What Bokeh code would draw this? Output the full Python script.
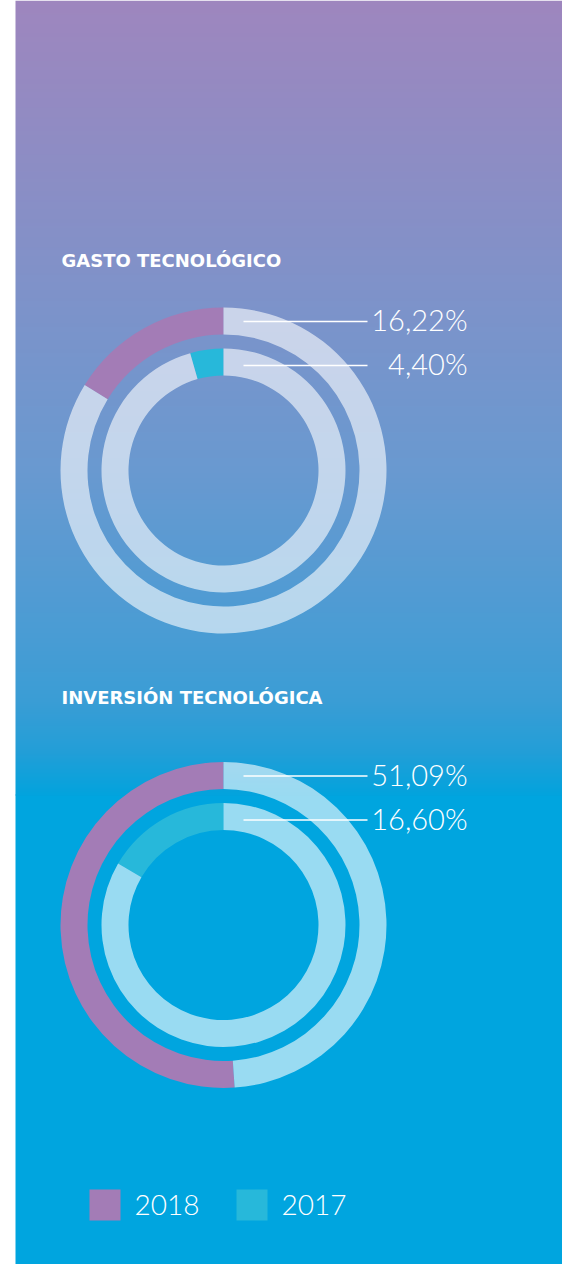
import numpy as np
from bokeh.plotting import figure
from bokeh.models import Range1d
from bokeh.core.properties import value
from bokeh.embed import file_html
from bokeh.resources import INLINE

# ---- data ----
categories = ["GASTO TECNOLÓGICO", "INVERSIÓN TECNOLÓGICA"]
values_2018 = [16.22, 51.09]
values_2017 = [4.40, 16.60]
years = ["2018", "2017"]

# ---- style ----
C2018 = "#A37CB6"
C2017 = "#27B8DA"
REST = "white"
REST_ALPHA = 0.6
W, H = 562, 1264
NUM_FONT = "Lato Light"
TITLE_FONT = "DejaVu Sans"

def X(px):
    return px

def Y(py):
    return H - py

p = figure(width=W, height=H, x_range=Range1d(0, W), y_range=Range1d(0, H),
           output_backend="svg", toolbar_location=None, min_border=0,
           outline_line_color=None, background_fill_color="white",
           border_fill_color="white")
p.axis.visible = False
p.grid.visible = False

# ---- background gradient (styling) ----
GRAD_END = 795
stops = [(0, (158, 134, 190)), (260, (130, 145, 200)), (470, (105, 153, 208)),
         (640, (72, 156, 212)), (700, (58, 157, 213)), (750, (35, 158, 215)),
         (GRAD_END, (2, 163, 221))]
rows = []
for yy in range(GRAD_END - 1, -1, -1):  # image row 0 is at the bottom
    for (a, ca), (b, cb) in zip(stops[:-1], stops[1:]):
        if a <= yy <= b:
            t = (yy - a) / (b - a)
            c = [int(round(ca[k] + t * (cb[k] - ca[k]))) for k in range(3)]
            break
    rows.append(c)
img = np.zeros((GRAD_END, 1), dtype=np.uint32)
view = img.view(dtype=np.uint8).reshape((GRAD_END, 1, 4))
for r, c in enumerate(rows):
    view[r, 0, 0] = c[0]
    view[r, 0, 1] = c[1]
    view[r, 0, 2] = c[2]
    view[r, 0, 3] = 255
p.quad(left=X(15), right=W, top=Y(GRAD_END) + 1, bottom=0, fill_color="#00A5DF", line_color=None)
p.image_rgba(image=[img], x=X(15), y=Y(GRAD_END), dw=W - 15, dh=GRAD_END)

# ---- donuts ----
cx = 223
centers_y = [470, 924.5]
title_y = [260, 697]
R_OUT = (136, 163)
R_IN = (95, 122)
start = np.pi / 2

for i, cat in enumerate(categories):
    cy = centers_y[i]
    for val, col, (r0, r1) in ((values_2018[i], C2018, R_OUT), (values_2017[i], C2017, R_IN)):
        end = start + val / 100 * 2 * np.pi
        p.annular_wedge(x=X(cx), y=Y(cy), inner_radius=r0, outer_radius=r1,
                        start_angle=start, end_angle=end, direction="anticlock",
                        fill_color=col, line_color=None)
        p.annular_wedge(x=X(cx), y=Y(cy), inner_radius=r0, outer_radius=r1,
                        start_angle=end, end_angle=start + 2 * np.pi, direction="anticlock",
                        fill_color=REST, fill_alpha=REST_ALPHA, line_color=None)
    # title
    p.text(x=[X(61)], y=[Y(title_y[i])], text=[cat], text_color="white",
           text_font=value(TITLE_FONT), text_font_style="bold", text_font_size="18px",
           text_baseline="middle", text_align="left")
    # labels
    for val, off in ((values_2018[i], 149), (values_2017[i], 105)):
        ly = cy - off
        p.segment(x0=X(243), y0=Y(ly), x1=X(367), y1=Y(ly), line_color="white", line_width=1.5)
        lab = ("%.2f%%" % val).replace(".", ",")
        p.text(x=[X(467)], y=[Y(ly - 2)], text=[lab], text_color="white",
               text_font=value(NUM_FONT), text_font_size="29px",
               text_baseline="middle", text_align="right")

# ---- legend ----
leg_x = [89, 236]
leg_cols = [C2018, C2017]
for yr, lx, col in zip(years, leg_x, leg_cols):
    p.rect(x=X(lx + 15.5), y=Y(1204.5), width=31, height=31, fill_color=col, line_color=None)
    p.text(x=[X(lx + 45)], y=[Y(1204)], text=[yr], text_color="white",
           text_font=value(NUM_FONT), text_font_size="28px",
           text_baseline="middle", text_align="left")

open("out.html", "w").write(file_html(p, INLINE))
